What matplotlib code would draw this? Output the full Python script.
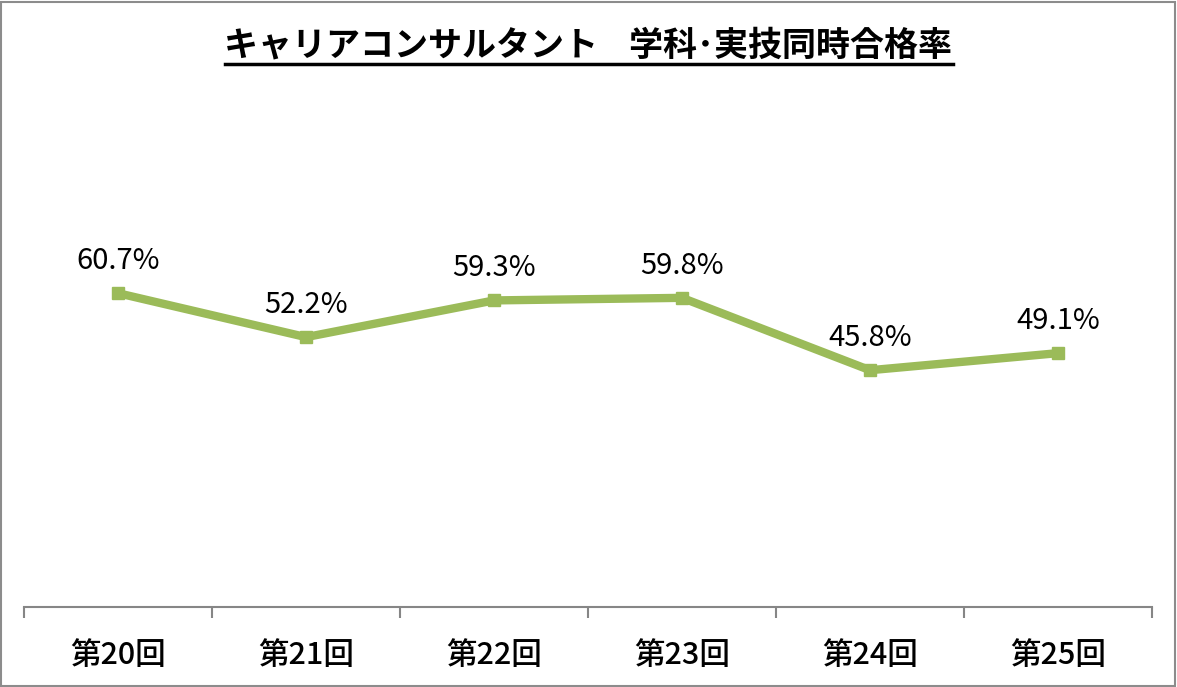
import matplotlib
matplotlib.use("Agg")
import matplotlib.pyplot as plt
from matplotlib.patches import Rectangle
from matplotlib.lines import Line2D

plt.rcParams['font.family'] = ['Noto Sans CJK JP', 'DejaVu Sans']

# data
rounds = ['第20回', '第21回', '第22回', '第23回', '第24回', '第25回']
rates = [60.7, 52.2, 59.3, 59.8, 45.8, 49.1]
title = 'キャリアコンサルタント    学科･実技同時合格率'

W, H = 1177, 687
fig = plt.figure(figsize=(W / 100, H / 100), dpi=100)

# plot area: x from 24 to 1152 px, y=0 at 607 px, 80% at ~193 px
ax = fig.add_axes([24 / W, 1 - 607 / H, 1128 / W, (607 - 193.4) / H])
x = range(len(rounds))
ax.plot(x, rates, color='#9BBB59', lw=6, marker='s', ms=9, solid_joinstyle='miter')
ax.set_xlim(-0.5, len(rounds) - 0.5)
ax.set_ylim(0, 80)

for i, v in zip(x, rates):
    ax.annotate(f'{v:.1f}%', (i, v), xytext=(0, 23), textcoords='offset points',
                ha='center', va='center', fontsize=21, color='#000000')

for s in ['top', 'right', 'left']:
    ax.spines[s].set_visible(False)
ax.spines['bottom'].set_color('#868686')
ax.spines['bottom'].set_linewidth(1.5)
ax.set_yticks([])
ax.set_xticks([i - 0.5 for i in range(len(rounds) + 1)])
ax.set_xticklabels([])
ax.set_xticks(list(x), minor=True)
ax.set_xticklabels(rounds, minor=True, fontsize=22, fontweight='medium')
ax.tick_params(axis='x', which='major', length=8, width=1.5, color='#868686', direction='out')
ax.tick_params(axis='x', which='minor', length=0, pad=24)

# title with underline
t = fig.text(0.5, 1 - 45 / H, title, ha='center', va='center', fontsize=24.5, fontweight='bold')
fig.canvas.draw()
bb = t.get_window_extent()
fig.add_artist(Line2D([bb.x0 / W, bb.x1 / W], [1 - 64 / H, 1 - 64 / H],
                      color='black', lw=2.5, transform=fig.transFigure))

# outer border
fig.add_artist(Rectangle((1 / W, 1 / H), 1 - 3 / W, 1 - 3 / H, transform=fig.transFigure,
                         fill=False, edgecolor='#8C8C8C', lw=1.5))

fig.savefig('out.png', dpi=100)
